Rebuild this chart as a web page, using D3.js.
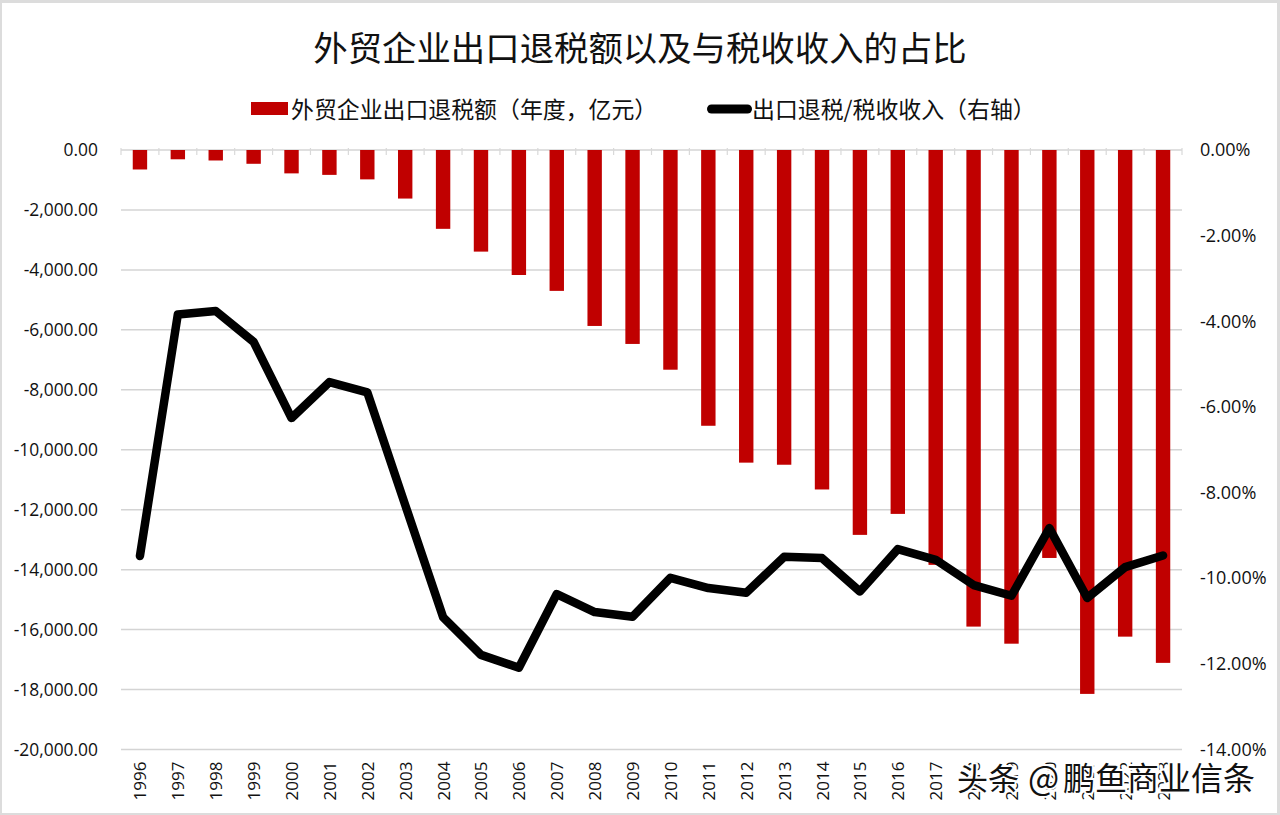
<!DOCTYPE html>
<html>
<head>
<meta charset="utf-8">
<script src="https://cdn.jsdelivr.net/npm/d3@7"></script>
<style>
  html, body { margin: 0; padding: 0; background: #dcdcdc; }
  svg { display: block; }
  .cjk { font-family: "Noto Sans CJK SC", sans-serif; fill: #111; }
  .axis text { font-family: "Open Sans", sans-serif; fill: #111; }
  .axis .domain { display: none; }
</style>
</head>
<body>
<svg id="chart" width="1280" height="815"></svg>
<script>
const years = ['1996','1997','1998','1999','2000','2001','2002','2003','2004','2005','2006','2007','2008','2009',
  '2010','2011','2012','2013','2014','2015','2016','2017','2018','2019','2020','2021','2022','2023'];

// 外贸企业出口退税额 (年度, 亿元)
const refund = [-650,-310,-350,-460,-780,-830,-980,-1620,-2630,-3390,-4170,-4700,-5870,-6470,
  -7330,-9200,-10430,-10500,-11325,-12840,-12140,-13840,-15900,-16470,-13610,-18145,-16235,-17110];

// 出口退税/税收收入 (右轴, %)
const share = [-9.48,-3.84,-3.76,-4.48,-6.26,-5.42,-5.66,-8.29,-10.91,-11.79,-12.09,-10.37,-10.79,-10.9,
  -9.99,-10.23,-10.34,-9.50,-9.53,-10.31,-9.32,-9.57,-10.16,-10.41,-8.83,-10.46,-9.74,-9.47];

const leftTicks = [0,-2000,-4000,-6000,-8000,-10000,-12000,-14000,-16000,-18000,-20000];
const rightTicks = [0,-2,-4,-6,-8,-10,-12,-14];

const titleText = '外贸企业出口退税额以及与税收收入的占比';
const barLegend = '外贸企业出口退税额（年度，亿元）';
const lineLegend = '出口退税/税收收入（右轴）';

const margin = { top: 150, right: 98, bottom: 65.5, left: 121 };
const width = 1280 - margin.left - margin.right;
const height = 815 - margin.top - margin.bottom;

const locale = d3.formatLocale({ decimal: '.', thousands: ',', grouping: [3], currency: ['', ''], minus: '-' });
const fmtLeft = locale.format(',.2f');
const fmtRight = d => locale.format('.2f')(d) + '%';

const svg = d3.select('#chart');

svg.append('rect')
  .attr('x', 2).attr('y', 3)
  .attr('width', 1275).attr('height', 810)
  .attr('fill', '#fff');

svg.append('text')
  .attr('class', 'cjk')
  .attr('x', 640).attr('y', 46)
  .attr('text-anchor', 'middle')
  .attr('dominant-baseline', 'central')
  .attr('font-size', 34.4)
  .text(titleText);

// legend
svg.append('rect')
  .attr('x', 251).attr('y', 102)
  .attr('width', 37).attr('height', 13)
  .attr('fill', '#c00000');
svg.append('text')
  .attr('class', 'cjk')
  .attr('x', 291).attr('y', 108)
  .attr('dominant-baseline', 'central')
  .attr('font-size', 22.9)
  .text(barLegend);
svg.append('line')
  .attr('x1', 711.5).attr('x2', 747.5)
  .attr('y1', 109).attr('y2', 109)
  .attr('stroke', '#000')
  .attr('stroke-width', 9)
  .attr('stroke-linecap', 'round');
svg.append('text')
  .attr('class', 'cjk')
  .attr('x', 752).attr('y', 108)
  .attr('dominant-baseline', 'central')
  .attr('font-size', 22.9)
  .text(lineLegend);

const g = svg.append('g')
  .attr('transform', `translate(${margin.left},${margin.top})`);

const x = d3.scaleBand()
  .domain(years)
  .range([0, width])
  .paddingInner(0.62)
  .paddingOuter(0.31);

const y = d3.scaleLinear()
  .domain([0, -20000])
  .range([0, height]);

const y2 = d3.scaleLinear()
  .domain([0, -14])
  .range([0, height]);

// gridlines + left labels
const leftAxis = g.append('g')
  .attr('class', 'axis axis--y')
  .call(d3.axisLeft(y).tickValues(leftTicks).tickFormat(fmtLeft).tickSize(0).tickPadding(23));
leftAxis.selectAll('text').attr('font-size', 17.4);

g.append('g')
  .selectAll('line')
  .data(leftTicks)
  .join('line')
  .attr('x1', 0).attr('x2', width)
  .attr('y1', d => y(d)).attr('y2', d => y(d))
  .attr('stroke', '#d4d4d4')
  .attr('stroke-width', 1.5);

// little category marks along the zero line
const step = x.step();
g.append('g')
  .selectAll('line')
  .data(d3.range(years.length + 1))
  .join('line')
  .attr('x1', i => i * step).attr('x2', i => i * step)
  .attr('y1', -2).attr('y2', 5)
  .attr('stroke', '#d9d9d9')
  .attr('stroke-width', 1.2);

// right labels, left aligned
const rightAxis = g.append('g')
  .attr('class', 'axis axis--y2')
  .attr('transform', `translate(${width},0)`)
  .call(d3.axisRight(y2).tickValues(rightTicks).tickFormat(fmtRight).tickSize(0).tickPadding(18));
rightAxis.selectAll('text').attr('font-size', 18);

// bars
g.append('g')
  .selectAll('rect')
  .data(years)
  .join('rect')
  .attr('x', d => x(d))
  .attr('y', 0)
  .attr('width', x.bandwidth())
  .attr('height', (d, i) => y(refund[i]))
  .attr('fill', '#c00000');

// bottom labels
const bottomAxis = g.append('g')
  .attr('class', 'axis axis--x')
  .attr('transform', `translate(0,${height})`)
  .call(d3.axisBottom(x).tickSize(0));
bottomAxis.selectAll('text')
  .attr('font-size', 17)
  .attr('transform', 'rotate(-90)')
  .attr('text-anchor', 'end')
  .attr('dx', -12)
  .attr('dy', 0)
  .attr('x', 0)
  .attr('y', 0)
  .attr('dominant-baseline', 'central');

// share line
g.append('path')
  .datum(share)
  .attr('fill', 'none')
  .attr('stroke', '#000')
  .attr('stroke-width', 8.5)
  .attr('stroke-linecap', 'round')
  .attr('stroke-linejoin', 'round')
  .attr('d', d3.line()
    .x((d, i) => x(years[i]) + x.bandwidth() / 2)
    .y(d => y2(d))
  );

// watermark, three pieces because the @ is wider in the reference
const markParts = [
  { text: '头条', x: 957, size: 31 },
  { text: '@', x: 1028, size: 33 },
  { text: '鹏鱼商业信条', x: 1063, size: 32 }
];
svg.append('g')
  .selectAll('text')
  .data(markParts)
  .join('text')
  .attr('class', 'cjk')
  .attr('x', d => d.x).attr('y', 776)
  .attr('dominant-baseline', 'central')
  .attr('font-size', d => d.size)
  .attr('stroke', '#fff')
  .attr('stroke-width', 4)
  .attr('paint-order', 'stroke')
  .text(d => d.text);
</script>
</body>
</html>
